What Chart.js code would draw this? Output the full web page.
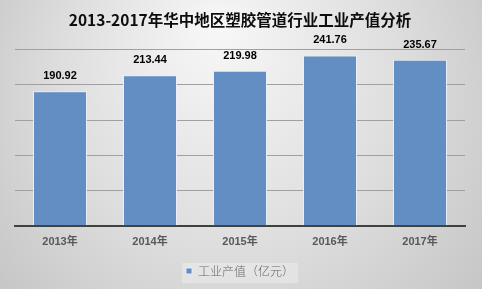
<!DOCTYPE html>
<html><head><meta charset="utf-8">
<script src="https://cdn.jsdelivr.net/npm/chart.js@4.4.1/dist/chart.umd.min.js"></script>
<style>html,body{margin:0;padding:0;background:#fff}canvas{display:block}</style>
</head><body>
<canvas id="c" width="482" height="289"></canvas>
<script>
const titleText = '2013-2017年华中地区塑胶管道行业工业产值分析';
const categories = ['2013年','2014年','2015年','2016年','2017年'];
const seriesName = '工业产值（亿元）';
const values = [190.92, 213.44, 219.98, 241.76, 235.67];
const yTicks = [0, 50, 100, 150, 200, 250];

const bgPlugin = {
  id: 'bg',
  beforeDraw(chart) {
    const {ctx, width, height} = chart;
    ctx.save();
    const g = ctx.createRadialGradient(width*0.45, height*0.1, 10, width*0.5, height*0.4, width*0.62);
    g.addColorStop(0, '#f6f6f6');
    g.addColorStop(0.55, '#dedede');
    g.addColorStop(1, '#c6c6c6');
    ctx.fillStyle = g;
    ctx.fillRect(0, 0, width, height);
    const lg = chart.legend;
    if (lg) {
      ctx.fillStyle = 'rgba(255,255,255,0.28)';
      const bw = 116, bh = 20;
      ctx.fillRect(width/2 - bw/2 - 1, lg.top + lg.height/2 - bh/2, bw, bh);
    }
    ctx.restore();
  },
  afterDatasetsDraw(chart) {
    const {ctx} = chart;
    const meta = chart.getDatasetMeta(0);
    ctx.save();
    ctx.font = 'bold 11px "Liberation Sans", "DejaVu Sans", sans-serif';
    ctx.fillStyle = '#000';
    ctx.textAlign = 'center';
    ctx.textBaseline = 'middle';
    meta.data.forEach((bar, i) => {
      ctx.fillText(values[i].toFixed(2), bar.x, bar.y - 15);
    });
    ctx.restore();
  }
};

new Chart(document.getElementById('c'), {
  type: 'bar',
  data: {
    labels: categories,
    datasets: [{
      label: seriesName,
      data: values,
      backgroundColor: 'rgb(98,142,196)',
      borderColor: 'rgba(235,240,248,0.9)',
      borderWidth: 1,
      categoryPercentage: 0.6,
      barPercentage: 1.0
    }]
  },
  options: {
    responsive: false,
    animation: false,
    layout: { padding: { left: 15, right: 17, bottom: 2 } },
    plugins: {
      title: {
        display: true,
        text: titleText,
        color: '#0d0d0d',
        font: { family: '"Noto Sans CJK SC", sans-serif', size: 15.5, weight: 'bold' },
        padding: { top: 11, bottom: 20 }
      },
      legend: {
        position: 'bottom',
        labels: {
          boxWidth: 6, boxHeight: 6,
          color: '#666666',
          font: { family: '"Noto Sans CJK SC", sans-serif', size: 12, weight: '300' },
          padding: 6
        }
      },
      tooltip: { enabled: false }
    },
    scales: {
      x: {
        grid: { display: false, drawTicks: false },
        border: { color: '#404040', width: 2 },
        ticks: {
          color: '#595959',
          padding: 10,
          font: { family: '"Liberation Sans", "Noto Sans CJK SC", sans-serif', size: 11, weight: 'bold' }
        }
      },
      y: {
        min: yTicks[0], max: yTicks[yTicks.length-1],
        afterBuildTicks(s) { s.ticks = yTicks.map(v => ({value: v})); },
        afterFit(s) { s.width = 0; },
        ticks: { display: false },
        border: { display: false },
        grid: { color: '#a0a0a0', lineWidth: 1, drawTicks: false }
      }
    }
  },
  plugins: [bgPlugin]
});
</script>
</body></html>
